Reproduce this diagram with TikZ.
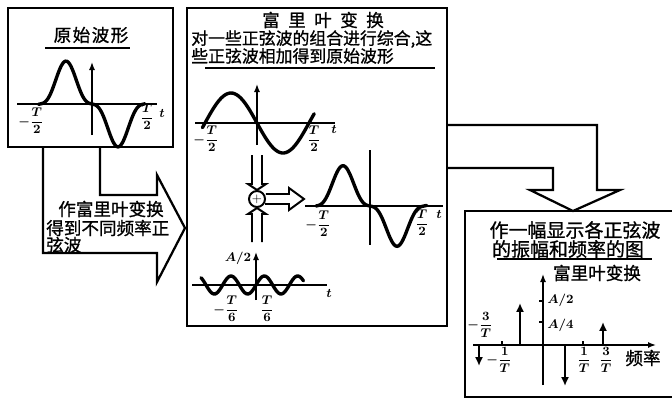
\documentclass[tikz,border=0pt]{standalone}
\usepackage{fontspec}
\usepackage{tikz}
\usetikzlibrary{arrows.meta,positioning}
\newfontfamily\cjk[FakeBold=1]{Noto Sans CJK SC}

\begin{document}
\begin{tikzpicture}[x=0.025cm,y=-0.025cm,
  panel/.style={draw,line width=1.6pt,inner sep=0pt},
  wave/.style={line width=2.4pt,smooth,line cap=round},
  axis/.style={line width=1pt},
  block/.style={line width=1.6pt,line join=miter},
  spike/.style={line width=1.8pt,-{Latex[length=2.2mm,width=2mm]}},
  cn/.style={font=\cjk\fontsize{12.5}{14}\selectfont,inner sep=0pt},
  lbl/.style={font=\boldmath\small,inner sep=0pt}]
  \useasboundingbox (0,0) rectangle (672,401);

  \node[panel,minimum width=4.125cm,minimum height=3.475cm] (orig) at (90.5,77.5) {};
  \node[panel,minimum width=6.5cm,minimum height=7.95cm] (synth) at (317,167) {};
  \node[panel,minimum width=5.875cm,minimum height=4.65cm] (spec) at (582.5,304) {};

  \draw[block] (43,147) |- (157,253) -- (157,282) -- (185,228) -- (157,175) -- (157,195) -| (100,147);
  \draw[block] (447,125) -| (597,190) -- (620,190) -- (573,211) -- (530,190) -- (553,190) |- (447,168);

  \node[cn] (origtitle) at (91,35) {原\hspace{1pt}始\hspace{1pt}波\hspace{1pt}形};
  \draw[line width=1.8pt] (45,48) -- (130,48);
  \draw[axis] (17,104) -- (157,104);
  \draw[axis,-{Latex[length=2mm]}] (92,135) -- (92,62);
  \draw[wave] plot[domain=-1.03:1.02,samples=80] ({92+52*\x},{104-33*(-sin(180*\x)+0.3*sin(540*\x))});
  \node[lbl] (origl) at (31,121) {$-\displaystyle\frac{T}{2}$};
  \node[lbl] (origr) at (147,117) {$\displaystyle\frac{T}{2}$};
  \node[lbl] (origt) at (162,113) {$t$};

  \node[cn] (fta1) at (111,209) {作富里叶变换};
  \node[cn,anchor=west] (fta2) at (46,228) {得到不同频率正};
  \node[cn,anchor=west] (fta3) at (46,245) {弦波};

  \node[cn] (synthtitle) at (323,20) {富\hspace{6pt}里\hspace{6pt}叶\hspace{6pt}变\hspace{6pt}换};
  \node[cn,anchor=west,font=\cjk\fontsize{12}{14}\selectfont] (desc1) at (191,39) {对一些正弦波的组合进行综合,这};
  \node[cn,anchor=west,font=\cjk\fontsize{12}{14}\selectfont] (desc2) at (191,56) {些正弦波相加得到原始波形};
  \draw[line width=1.8pt] (205,68) -- (435,68);

  \draw[axis] (195,123) -- (335,123);
  \draw[axis,-{Latex[length=2mm]}] (257,145) -- (257,84);
  \draw[wave] plot[domain=-1.05:1.1,samples=60] ({257+52*\x},{123+30*sin(180*\x)});
  \node[lbl] (sinl) at (206,139) {$-\displaystyle\frac{T}{2}$};
  \node[lbl] (sinr) at (314,139) {$\displaystyle\frac{T}{2}$};
  \node[lbl] (sint) at (334,129) {$t$};

  \node[circle,draw,line width=1.4pt,minimum size=0.4cm,inner sep=0pt,font=\small] (sum) at (257,199) {$+$};
  \draw[block,line width=1.4pt] (252,155) -- (252,184) -- (248,184) -- (sum.north) -- (266,184) -- (262,184) -- (262,155);
  \draw[block,line width=1.4pt] (252,242) -- (252,214) -- (248,214) -- (sum.south) -- (266,214) -- (262,214) -- (262,242);
  \draw[block,line width=1.4pt] (sum.east) ++(0,-5) -- (289,194) -- (289,188) -- (304,199) -- (289,210) -- (289,204) -- (265,204);

  \draw[axis] (305,206) -- (443,206);
  \draw[axis] (370,150) -- (370,245);
  \draw[wave] plot[domain=-1.0:1.05,samples=80] ({370+54*\x},{206-31*(-sin(180*\x)+0.3*sin(540*\x))});
  \node[lbl] (suml) at (318,224) {$-\displaystyle\frac{T}{2}$};
  \node[lbl] (sumr) at (422,223) {$\displaystyle\frac{T}{2}$};
  \node[lbl] (sumt) at (439,214) {$t$};

  \draw[axis] (192,285) -- (327,285);
  \draw[axis,-{Latex[length=2mm]}] (256,300) -- (256,252);
  \draw[wave] plot[domain=-1.1:0.95,samples=80] ({256+50*\x},{285-9*sin(540*\x)});
  \node[lbl] (harma) at (238,258) {$A/2$};
  \node[lbl] (harml) at (226,309) {$-\displaystyle\frac{T}{6}$};
  \node[lbl] (harmr) at (267,309) {$\displaystyle\frac{T}{6}$};
  \node[lbl] (harmt) at (329,293) {$t$};

  \node[cn,font=\cjk\fontsize{13.5}{15}\selectfont] (spec1) at (575,230) {作一幅显示各正弦波};
  \node[cn,font=\cjk\fontsize{13.5}{15}\selectfont] (spec2) at (568,249) {的振幅和频率的图};
  \draw[line width=1.8pt] (497,259) -- (652,259);
  \node[cn] (spectitle) at (597,273) {富里叶变换};

  \draw[axis,-{Latex[length=2mm]}] (473,345) -- (656,345);
  \draw[axis,-{Latex[length=2mm]}] (543,385) -- (543,274);
  \draw[axis] (539,301) -- (543,301);
  \draw[axis] (539,322) -- (543,322);
  \draw[axis] (502,345) -- (502,341);
  \draw[axis] (583,345) -- (583,341);
  \draw[spike] (520,345) -- (520,303);
  \draw[spike] (603,345) -- (603,322);
  \draw[spike] (479,345) -- (479,366);
  \draw[spike] (565,345) -- (565,386);
  \node[lbl,anchor=west] (ampa) at (547,300) {$A/2$};
  \node[lbl,anchor=west] (ampb) at (547,325) {$A/4$};
  \node[lbl] (fm3) at (480,325) {$-\displaystyle\frac{3}{T}$};
  \node[lbl] (fm1) at (499,360) {$-\displaystyle\frac{1}{T}$};
  \node[lbl] (fp1) at (584,360) {$\displaystyle\frac{1}{T}$};
  \node[lbl] (fp3) at (606,360) {$\displaystyle\frac{3}{T}$};
  \node[cn] (freq) at (643,358) {频率};
\end{tikzpicture}
\end{document}
